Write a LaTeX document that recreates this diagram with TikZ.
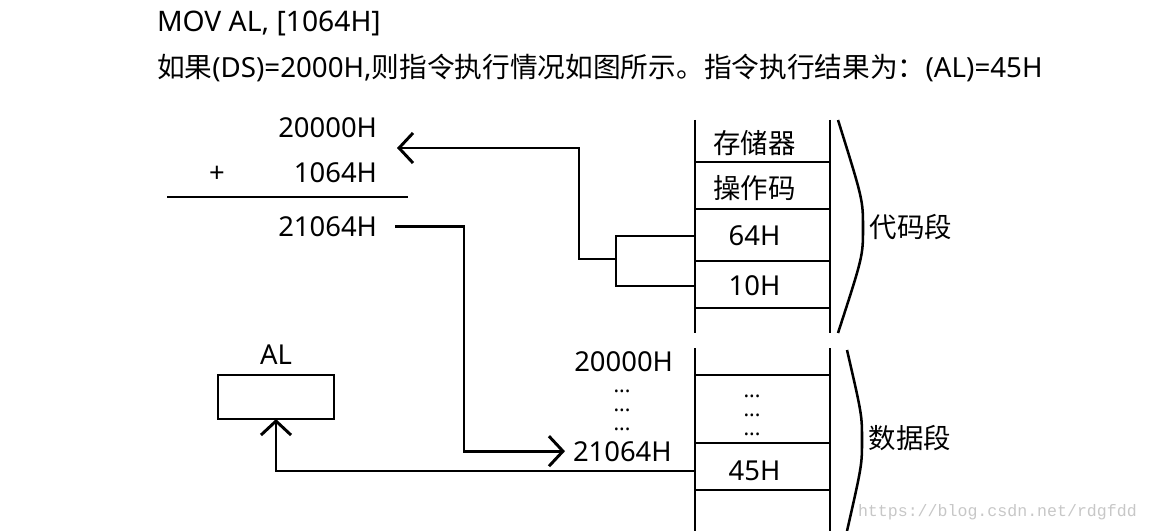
\documentclass[tikz,border=0pt]{standalone}
\usepackage{fontspec}
\setmainfont{Noto Sans}
\setmonofont{Liberation Mono}
\newfontfamily\cjk{Noto Sans CJK SC}
\usetikzlibrary{arrows.meta, positioning}

\begin{document}
\begin{tikzpicture}[x=0.025cm, y=-0.025cm, line width=2.1pt,
	every node/.style={inner sep=0pt, outer sep=0pt, font=\fontsize{19.5}{23}\selectfont},
	cell/.style={minimum width=3.375cm, execute at begin node={\hspace*{-0.4cm}}},
	stack/.style={align=center, font=\fontsize{15}{13.5}\selectfont},
	arr/.style={-{Straight Barb[length=0.35cm, width=0.75cm]}},
	brace/.style={line width=1.8pt}]

		\useasboundingbox (0,0) rectangle (1149,531);

		% instruction text
		\node[anchor=base west, font=\fontsize{20.1}{23}\selectfont] (cmd) at (157,32) {MOV AL, [1064H]};
		\node[anchor=base west, font=\fontsize{19.7}{23}\selectfont] (desc) at (157,78) {{\cjk 如果}(DS)=2000H,{\cjk 则指令执行情况如图所示。指令执行结果为：}(AL)=45H};

		% address addition
		\node[anchor=base east] (base) at (377,138) {20000H};
		\node[anchor=base] (plus) at (217,183) {+};
		\node[anchor=base east] (offs) at (377,183) {1064H};
		\draw (167,197) -- (408,197);
		\node[anchor=base east] (sum) at (377,236) {21064H};

		% memory column
		\draw (695,120) -- (695,333) (830,120) -- (830,333);
		\foreach \y in {162,209,261,308}
			\draw (695,\y) -- (830,\y);
		\draw (695,348) -- (695,531) (830,348) -- (830,531);
		\foreach \y in {375,443,490}
			\draw (695,\y) -- (830,\y);

		\node[cell] (cmem) at (762.5,143) {\cjk 存储器};
		\node[cell] (cop) at (762.5,188) {\cjk 操作码};
		\node[cell] (c64) at (762.5,236) {64H};
		\node[cell] (c10) at (762.5,286) {10H};
		\node[stack] (cdots) at (752,415) {...\\...\\...};
		\node[cell] (c45) at (762.5,471) {45H};

		% segments
		\draw[brace] (838,120) .. controls (863,200) .. (863,228) .. controls (863,256) .. (838,333);
		\draw[brace] (847,350) .. controls (862,415) .. (862,440) .. controls (862,465) .. (847,531);
		\node (codeseg) at (911,227) {\cjk 代码段};
		\node (dataseg) at (910,438) {\cjk 数据段};

		% data addresses
		\node[anchor=base east] (d20000) at (673,371) {20000H};
		\node[stack] (ddots) at (622,410) {...\\...\\...};
		\node[anchor=base west] (d21064) at (573,461) {21064H};

		% register
		\node[draw, minimum width=2.9cm, minimum height=1.1cm] (alreg) at (276,397) {};
		\node[above=0.25cm of alreg] (allbl) {AL};

		\coordinate (fork) at (616,259);
		\coordinate (bend) at (579,259);
		\coordinate (addin) at (397,148);
		\coordinate (route) at (464,340);

		\draw (c64.west) -| (fork) |- (c10.west);
		\draw[arr] (fork) -- (bend) |- (addin);
		\draw[arr, shorten <=0.45cm, shorten >=0.2cm] (sum.east) -| (route) |- (d21064.west);
		\draw[arr] (c45.west) -| (alreg.south);

		\node[anchor=base west, font=\fontsize{11.8}{13}\selectfont\ttfamily, text=black!22] (mark) at (858,516) {https://blog.csdn.net/rdgfdd};
	\end{tikzpicture}
\end{document}
